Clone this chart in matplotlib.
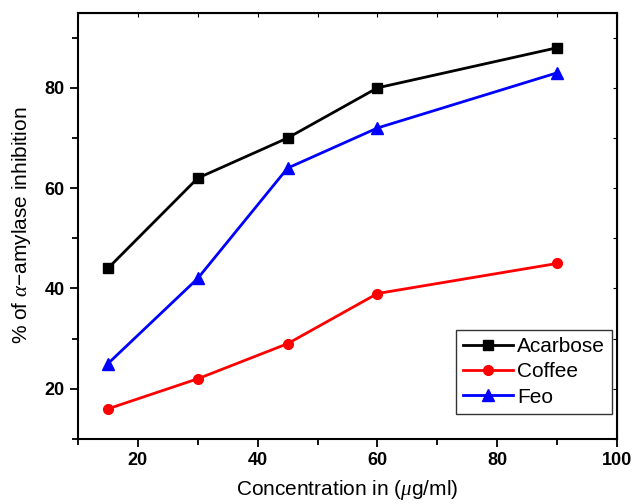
import numpy as np
import matplotlib
matplotlib.use('Agg')
import matplotlib.pyplot as plt
from matplotlib.ticker import MultipleLocator

plt.rcParams['font.family'] = ['Liberation Sans', 'DejaVu Sans']
plt.rcParams['mathtext.fontset'] = 'custom'
plt.rcParams['mathtext.it'] = 'Liberation Serif:italic'
plt.rcParams['mathtext.rm'] = 'Liberation Sans'

conc = [15, 30, 45, 60, 90]
acarbose = [44, 62, 70, 80, 88]
coffee = [16, 22, 29, 39, 45]
feo = [25, 42, 64, 72, 83]

fig = plt.figure(figsize=(6.33, 5.04), dpi=100)
ax = fig.add_axes([0.123, 0.129, 0.852, 0.846])

ax.plot(conc, acarbose, color='black', marker='s', markersize=7, lw=2, label='Acarbose')
ax.plot(conc, coffee, color='red', marker='o', markersize=7, lw=2, label='Coffee')
ax.plot(conc, feo, color='blue', marker='^', markersize=8, lw=2, label='Feo')

ax.set_xlim(10, 100)
ax.set_ylim(10, 95)
ax.xaxis.set_major_locator(MultipleLocator(20))
ax.xaxis.set_minor_locator(MultipleLocator(10))
ax.yaxis.set_major_locator(MultipleLocator(20))
ax.yaxis.set_minor_locator(MultipleLocator(10))
ax.tick_params(which='major', direction='out', length=6, width=1.3, labelsize=13)
ax.tick_params(which='minor', direction='out', length=4, width=1.3)
for lab in ax.get_xticklabels() + ax.get_yticklabels():
    lab.set_fontweight('bold')
for s in ax.spines.values():
    s.set_linewidth(1.5)

ax2 = ax.secondary_xaxis('top')
ax2.tick_params(which='both', direction='in', length=3, labeltop=False)
ax2.xaxis.set_major_locator(MultipleLocator(10))
ax2.set_xticklabels([])
ax3 = ax.secondary_yaxis('right')
ax3.tick_params(which='both', direction='in', length=3, labelright=False)
ax3.yaxis.set_major_locator(MultipleLocator(10))
ax3.set_yticklabels([])

ax.set_xlabel(r'Concentration in ($\mu$g/ml)', fontsize=15, labelpad=6)
ax.set_ylabel(r'% of $\alpha$$-$amylase inhibition', fontsize=15, labelpad=8)

leg = ax.legend(loc='lower right', bbox_to_anchor=(0.991, 0.059), borderaxespad=0,
                fontsize=15, frameon=True, fancybox=False, edgecolor='black',
                handlelength=2.4, handletextpad=0.2, borderpad=0.35, labelspacing=0.3)
leg.get_frame().set_linewidth(1.0)

fig.savefig('out.png', dpi=100)
